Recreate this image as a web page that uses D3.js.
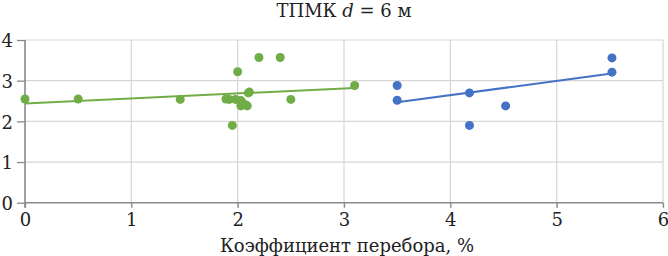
<!DOCTYPE html>
<html>
<head>
<meta charset="utf-8">
<script src="https://cdn.jsdelivr.net/npm/d3@7"></script>
<style>
  body { margin: 0; background: #fff; }
</style>
</head>
<body>
<script>
// green series (cluster around 2 %)
const greenX = [0, 0.5, 1.46, 1.89, 1.92, 1.98, 2.03, 2.04, 2.03, 2.09, 2.08, 2.11, 2.1, 1.95, 2.0, 2.2, 2.4, 2.5, 3.1];
const greenY = [2.55, 2.55, 2.54, 2.55, 2.54, 2.54, 2.51, 2.48, 2.38, 2.38, 2.4, 2.72, 2.7, 1.9, 3.22, 3.57, 3.57, 2.54, 2.88];
// blue series
const blueX = [3.5, 3.5, 4.18, 4.18, 4.52, 5.52, 5.52];
const blueY = [2.88, 2.52, 2.7, 1.9, 2.38, 3.56, 3.21];
// trend lines (start / end)
const greenTrend = [[0, 2.44], [3.1, 2.82]];
const blueTrend = [[3.5, 2.47], [5.5, 3.17]];

const xTicks = [0, 1, 2, 3, 4, 5, 6];
const yTicks = [0, 1, 2, 3, 4];

const width = 668, height = 256;
const margin = { top: 40, right: 5, bottom: 53.3, left: 25 };
const font = "'DejaVu Serif', serif";

const svg = d3.select("body").append("svg")
    .attr("width", width)
    .attr("height", height);

const x = d3.scaleLinear().domain([0, 6]).range([margin.left, width - margin.right]);
const y = d3.scaleLinear().domain([0, 4]).range([height - margin.bottom, margin.top]);

// grid
svg.append("g").selectAll("line")
    .data(yTicks.slice(1))
    .join("line")
    .attr("x1", x(0)).attr("x2", x(6))
    .attr("y1", d => y(d)).attr("y2", d => y(d))
    .attr("stroke", "#d6d6d6").attr("stroke-width", 1.2);
svg.append("g").selectAll("line")
    .data(xTicks.slice(1))
    .join("line")
    .attr("x1", d => x(d)).attr("x2", d => x(d))
    .attr("y1", y(0) + 5).attr("y2", y(4))
    .attr("stroke", "#d6d6d6").attr("stroke-width", 1.2);

// axes
const xAxis = svg.append("g")
    .attr("transform", `translate(0,${y(0)})`)
    .call(d3.axisBottom(x).tickValues(xTicks).tickFormat(d3.format("d")).tickSize(5).tickPadding(5.5));
const yAxis = svg.append("g")
    .attr("transform", `translate(${x(0)},0)`)
    .call(d3.axisLeft(y).tickValues(yTicks).tickFormat(d3.format("d")).tickSize(8).tickPadding(4));
[xAxis, yAxis].forEach(g => {
    g.attr("font-family", font).attr("font-size", 18);
    g.selectAll(".tick text").attr("fill", "#222");
    g.select(".domain").attr("stroke", "#8a8a8a").attr("stroke-width", 1.6);
    g.selectAll(".tick line").attr("stroke", "#8a8a8a").attr("stroke-width", 1.3);
});
yAxis.selectAll(".tick text").attr("dy", "0.38em");
xAxis.select(".domain").attr("d", `M${x(0)},0H${x(6)}`);
yAxis.select(".domain").attr("d", `M0,${y(4)}V${y(0) + 5}`);

// trend lines
const line = d3.line().x(d => x(d[0])).y(d => y(d[1]));
svg.append("path").datum(greenTrend).attr("d", line)
    .attr("fill", "none").attr("stroke", "#70ad47").attr("stroke-width", 2);
svg.append("path").datum(blueTrend).attr("d", line)
    .attr("fill", "none").attr("stroke", "#4472c4").attr("stroke-width", 2);

// points
svg.append("g").selectAll("circle")
    .data(greenX.map((v, i) => [v, greenY[i]]))
    .join("circle")
    .attr("cx", d => x(d[0])).attr("cy", d => y(d[1])).attr("r", 4.5)
    .attr("fill", "#70ad47");
svg.append("g").selectAll("circle")
    .data(blueX.map((v, i) => [v, blueY[i]]))
    .join("circle")
    .attr("cx", d => x(d[0])).attr("cy", d => y(d[1])).attr("r", 4.5)
    .attr("fill", "#4472c4");

// title
const title = svg.append("text")
    .attr("x", 344).attr("y", 17)
    .attr("text-anchor", "middle")
    .attr("font-family", font).attr("font-size", 18).attr("fill", "#222");
title.append("tspan").text("ТПМК ");
title.append("tspan").attr("font-style", "italic").text("d");
title.append("tspan").text(" = 6 м");

svg.append("text")
    .attr("x", 347).attr("y", 252)
    .attr("text-anchor", "middle")
    .attr("font-family", font).attr("font-size", 18).attr("fill", "#222")
    .text("Коэффициент перебора, %");
</script>
</body>
</html>
